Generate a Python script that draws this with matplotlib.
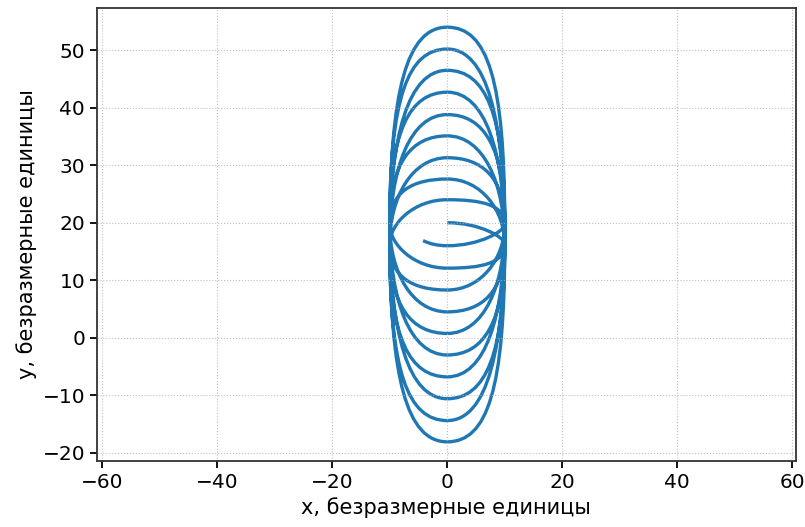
import matplotlib
matplotlib.use("Agg")
import matplotlib.pyplot as plt
from matplotlib.path import Path
from matplotlib.patches import PathPatch

# turning points of the trajectory (x = 0), in drawing order
turn_y = [20.0, 12.1, 27.6, 4.5, 35.1, -3.0, 42.7, -10.6, 50.2, -18.1,
          54.0, -14.4, 46.5, -6.8, 38.8, 0.75, 31.3, 8.3, 24.0, 16.0]
# where each half-turn touches the side (x = +-10)
side_x = [10, -10, 10, -10, 10, -10, 10, -10, 10, -10,
          10, -10, 10, -10, 10, -10, 10, -10, 10]
side_y = [16.3, 19.7, 16.3, 19.7, 16.3, 19.7, 16.3, 19.7, 16.3, 18.0,
          19.7, 16.3, 19.7, 16.3, 19.7, 16.3, 19.7, 16.3, 19.7]
center_y = 18.0
end_point = (-4.2, 16.9)


def handle(h):
    # small loops are close to ellipses, the big ones are boxier
    return 0.56 + 0.14 * min(1.0, abs(h) / 36.0)


verts = [(0, turn_y[0])]
codes = [Path.MOVETO]
for i in range(len(side_x)):
    y0, y1 = turn_y[i], turn_y[i + 1]
    sx, sy = side_x[i], side_y[i]
    k0, k1 = handle(y0 - center_y), handle(y1 - center_y)
    verts += [(k0 * sx, y0), (sx, sy + k0 * (y0 - center_y)), (sx, sy),
              (sx, sy + k1 * (y1 - center_y)), (k1 * sx, y1), (0, y1)]
    codes += [Path.CURVE4] * 6
ex, ey = end_point
y_last = turn_y[-1]
verts += [(ex * 0.4, y_last), (ex * 0.75, (y_last + ey) / 2 - 0.1), (ex, ey)]
codes += [Path.CURVE4] * 3

fig = plt.figure(figsize=(8.05, 5.27), dpi=100)
ax = fig.add_axes([0.1205, 0.1252, 0.868, 0.8596])
ax.add_patch(PathPatch(Path(verts, codes), facecolor='none',
                       edgecolor='#1f77b4', linewidth=2.4))
ax.set_ylim(-21.7, 57.6)
ax.set_aspect('equal', adjustable='datalim')
ax.set_xlim(-60.9, 60.6)
ax.set_xticks([-60, -40, -20, 0, 20, 40, 60])
ax.set_yticks([-20, -10, 0, 10, 20, 30, 40, 50])

ax.set_xlabel('x, безразмерные единицы', fontsize=15)
ax.set_ylabel('y, безразмерные единицы', fontsize=15)
ax.tick_params(labelsize=14.5, width=1.3, length=5)
for s in ax.spines.values():
    s.set_linewidth(1.3)
    s.set_color('#333333')
ax.grid(True, linestyle=':', color='#b0b0b0', alpha=0.8)

fig.savefig('out.png', dpi=100)
